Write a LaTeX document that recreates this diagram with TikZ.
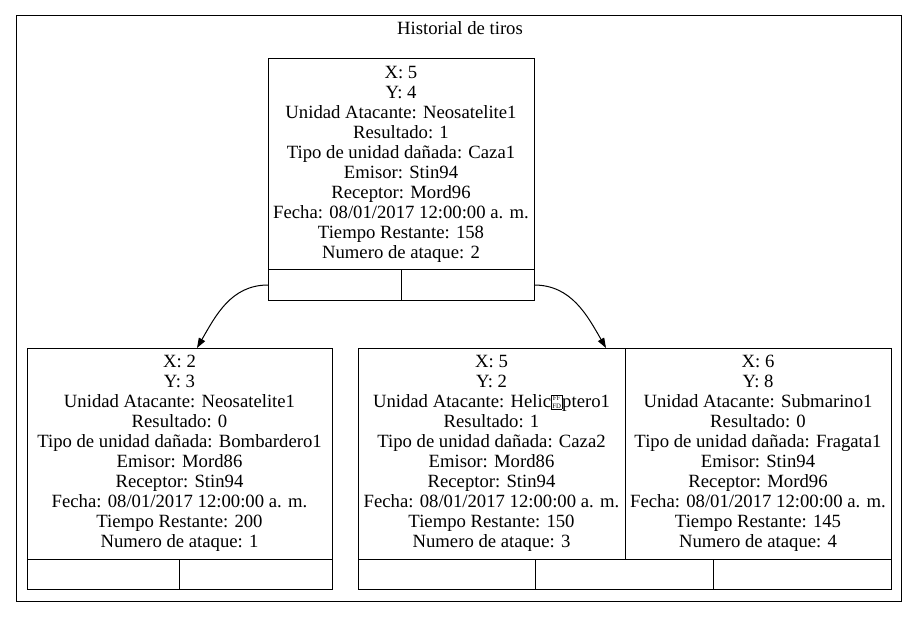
\documentclass[tikz,border=0pt]{standalone}
\usepackage{fontspec}
\setmainfont{Liberation Serif}
\usetikzlibrary{positioning,arrows.meta}
\newcommand{\cajafffd}{\raisebox{-0.5pt}{\setlength{\fboxsep}{0.6pt}\setlength{\fboxrule}{0.6pt}\fbox{\fontsize{6.8}{6}\selectfont\shortstack{FF\\FD}}}}

\begin{document}
\begin{tikzpicture}[x=1pt,y=1pt,
    registro/.style={draw,line width=1pt,outer sep=0pt,inner sep=0pt,align=center,minimum height=211pt,font=\fontsize{18.7}{20}\selectfont},
    celda/.style={draw,line width=1pt,outer sep=0pt,inner sep=0pt,minimum height=30pt},
    flecha/.style={line width=1pt,-{Triangle[length=10pt,width=7pt]}}]
      \useasboundingbox (0,0) rectangle (917,-617);
      \node[draw,line width=1pt,outer sep=0pt,minimum width=885pt,minimum height=585pt](historial) at (458.5,-308.5){};
      \node[anchor=base,font=\fontsize{18.7}{20}\selectfont](titulo) at (460,-35){Historial de tiros};

      \node[registro,minimum width=266pt](raiz) at (401,-164.5){X: 5\\Y: 4\\Unidad Atacante: Neosatelite1\\Resultado: 1\\Tipo de unidad dañada: Caza1\\Emisor: Stin94\\Receptor: Mord96\\Fecha: 08/01/2017 12:00:00 a. m.\\Tiempo Restante: 158\\Numero de ataque: 2};
      \node[celda,minimum width=133pt,below right=0pt of raiz.south west](raiz1){};
      \node[celda,minimum width=133pt,below left=0pt of raiz.south east](raiz2){};

      \node[registro,minimum width=305pt](izq) at (179.5,-453.5){X: 2\\Y: 3\\Unidad Atacante: Neosatelite1\\Resultado: 0\\Tipo de unidad dañada: Bombardero1\\Emisor: Mord86\\Receptor: Stin94\\Fecha: 08/01/2017 12:00:00 a. m.\\Tiempo Restante: 200\\Numero de ataque: 1};
      \node[celda,minimum width=152.5pt,below right=0pt of izq.south west](izq1){};
      \node[celda,minimum width=152.5pt,below left=0pt of izq.south east](izq2){};

      \node[registro,minimum width=267pt](der1) at (491.5,-453.5){X: 5\\Y: 2\\Unidad Atacante: Helic\cajafffd ptero1\\Resultado: 1\\Tipo de unidad dañada: Caza2\\Emisor: Mord86\\Receptor: Stin94\\Fecha: 08/01/2017 12:00:00 a. m.\\Tiempo Restante: 150\\Numero de ataque: 3};
      \node[registro,minimum width=266pt,right=0pt of der1](der2){X: 6\\Y: 8\\Unidad Atacante: Submarino1\\Resultado: 0\\Tipo de unidad dañada: Fragata1\\Emisor: Stin94\\Receptor: Mord96\\Fecha: 08/01/2017 12:00:00 a. m.\\Tiempo Restante: 145\\Numero de ataque: 4};
      \node[celda,minimum width=177.67pt,below right=0pt of der1.south west](der3){};
      \node[celda,minimum width=177.67pt,right=0pt of der3](der4){};
      \node[celda,minimum width=177.67pt,right=0pt of der4](der5){};

      \draw[flecha](raiz1.west) to[out=180,in=60] ([xshift=17.5pt]izq.north);
      \draw[flecha](raiz2.east) to[out=0,in=120] ([xshift=114.5pt]der1.north);
    \end{tikzpicture}
\end{document}
